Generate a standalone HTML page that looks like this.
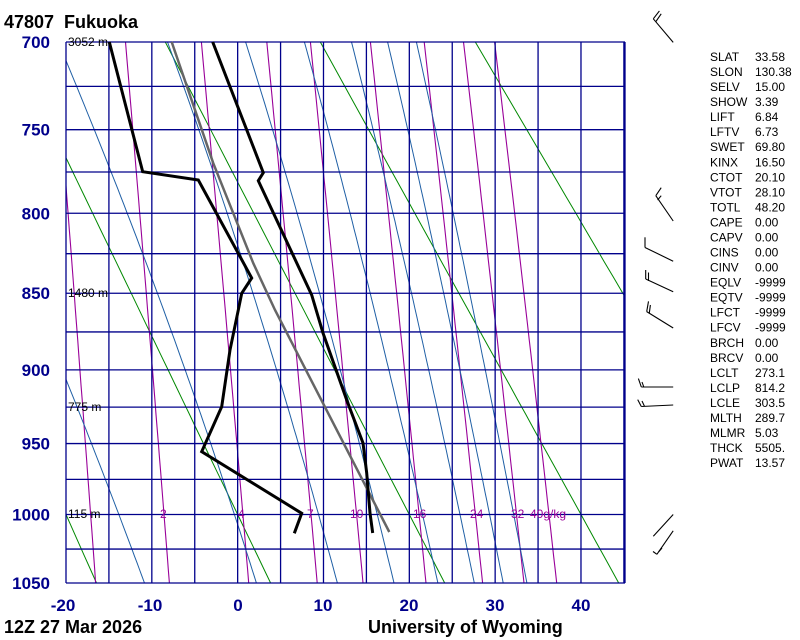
<!DOCTYPE html>
<html><head><meta charset="utf-8"><style>
html,body{margin:0;padding:0;background:#fff;}
svg{display:block;font-family:"Liberation Sans",sans-serif;}
</style></head><body>
<svg id="s" width="800" height="640" viewBox="0 0 800 640" xmlns="http://www.w3.org/2000/svg">
<defs><clipPath id="c"><rect x="66" y="42" width="559" height="541"/></clipPath></defs>
<g id="lines" clip-path="url(#c)"></g>
<g id="grid" stroke="#00008b" stroke-width="1.3" fill="none"></g>
<g id="prof" fill="none" stroke-linejoin="miter"></g>
<g id="txt"></g>
<g id="barbs" stroke="#000" stroke-width="1.1" fill="none"></g>
</svg>
<script>
var NS="http://www.w3.org/2000/svg";
function el(par,tag,attrs,text){var e=document.createElementNS(NS,tag);for(var k in attrs)e.setAttribute(k,attrs[k]);if(text!==undefined)e.textContent=text;document.getElementById(par).appendChild(e);return e;}
var K=0.286,A=Math.pow(700,K),B=Math.pow(1050,K);
function Y(p){return 42+(Math.pow(p,K)-A)/(B-A)*541;}
function X(t){return 66+(t+20)*8.583;}
function es(t){return 6.112*Math.exp(17.67*t/(t+243.5));}
for(var i=0;i<=13;i++){var x=66+i*42.915;el("grid","line",{x1:x,y1:42,x2:x,y2:583});}
el("grid","line",{x1:625,y1:42,x2:625,y2:583});
for(var p=700;p<=1050;p+=25){var y=Y(p);el("grid","line",{x1:66,y1:y,x2:625,y2:y});}
[233.15,253.15,273.15,293.15,313.15,333.15,353.15].forEach(function(th){
 var pts=[];for(var p=700;p<=1050;p+=10){var T=th*Math.pow(p/1000,K)-273.15;pts.push(X(T).toFixed(1)+","+Y(p).toFixed(1));}
 el("lines","polyline",{points:pts.join(" "),stroke:"#008800","stroke-width":"1",fill:"none"});
});
[1,2,4,7,10,16,24,32,40].forEach(function(w){
 var pts=[];for(var p=700;p<=1050;p+=10){var e=w*p/(622+w);var l=Math.log(e/6.112);var T=243.5*l/(17.67-l);pts.push(X(T).toFixed(1)+","+Y(p).toFixed(1));}
 el("lines","polyline",{points:pts.join(" "),stroke:"#990099","stroke-width":"1.1",fill:"none"});
});
function the(t,p){var TK=t+273.15;var e=es(t);var ws=0.622*e/(p-e);return TK*Math.pow(1000/p,K)*Math.exp(2.5e6*ws/(1004*TK));}
[243,262.6,282.2,301.7,320.1,338.5,357.7,376.3,394.4].forEach(function(tg){
 var pts=[];for(var p=690;p<=1055;p+=5){var lo=-90,hi=50;for(var j=0;j<50;j++){var m=(lo+hi)/2;if(the(m,p)<tg)lo=m;else hi=m;}pts.push(X(lo).toFixed(1)+","+Y(p).toFixed(1));}
 el("lines","polyline",{points:pts.join(" "),stroke:"#1f5fa5","stroke-width":"1",fill:"none"});
});
el("prof","polyline",{points:"389.3,532 275,310 253.3,263.3 233.3,213.3 213.3,163.3 171.7,42",stroke:"#666","stroke-width":"2.5"});
el("prof","polyline",{points:"212.7,42 263.3,172.7 258.3,180.7 311.7,295 323,333 346.7,400 363,443 366.7,473 370,513 372.7,533",stroke:"#000","stroke-width":"3"});
el("prof","polyline",{points:"109.3,42 142.7,171.7 198.3,180 251.7,278 241.7,293.3 238.3,310 230,350 221.7,406.7 201.7,451.7 301.7,513.3 294.3,533.3",stroke:"#000","stroke-width":"3"});
var t1=el("txt","text",{x:4,y:28,"font-size":"18","font-weight":"bold"},"47807  Fukuoka");t1.style.whiteSpace="pre";
el("txt","text",{x:4,y:633,"font-size":"18","font-weight":"bold"},"12Z 27 Mar 2026");
el("txt","text",{x:368,y:633,"font-size":"18","font-weight":"bold"},"University of Wyoming");
[700,750,800,850,900,950,1000,1050].forEach(function(p){el("txt","text",{x:50,y:(Y(p)+6).toFixed(1),"font-size":"17","font-weight":"bold",fill:"#00008b","text-anchor":"end"},String(p));});
[[-20,63],[-10,150],[0,238],[10,323],[20,409],[30,495],[40,581]].forEach(function(a){el("txt","text",{x:a[1],y:611,"font-size":"17","font-weight":"bold",fill:"#00008b","text-anchor":"middle"},String(a[0]));});
[["3052 m",46],["1480 m",297],["775 m",411],["115 m",518]].forEach(function(a){el("txt","text",{x:68,y:a[1],"font-size":"12"},a[0]);});
[["2",160],["4",238],["7",307],["10",350],["16",413],["24",470],["32",511],["40g/kg",530]].forEach(function(a){el("txt","text",{x:a[1],y:518,"font-size":"12",fill:"#990099"},a[0]);});
var st=[["SLAT","33.58"],["SLON","130.38"],["SELV","15.00"],["SHOW","3.39"],["LIFT","6.84"],["LFTV","6.73"],["SWET","69.80"],["KINX","16.50"],["CTOT","20.10"],["VTOT","28.10"],["TOTL","48.20"],["CAPE","0.00"],["CAPV","0.00"],["CINS","0.00"],["CINV","0.00"],["EQLV","-9999"],["EQTV","-9999"],["LFCT","-9999"],["LFCV","-9999"],["BRCH","0.00"],["BRCV","0.00"],["LCLT","273.1"],["LCLP","814.2"],["LCLE","303.5"],["MLTH","289.7"],["MLMR","5.03"],["THCK","5505."],["PWAT","13.57"]];
st.forEach(function(r,i){var y=(61+i*15.04).toFixed(1);el("txt","text",{x:710,y:y,"font-size":"12"},r[0]);el("txt","text",{x:755,y:y,"font-size":"12"},r[1]);});
var bl=[[673.2,42.4,653.3,18.8],[653.3,18.8,659.4,10.9],[655.8,21.7,661.2,13.8],
[673.2,221,655.8,195.7],[655.8,195.7,661.2,187.7],[657.6,200,661.2,195.7],
[673.2,261.2,645,247.5],[645,247.5,645,237.3],
[673.2,291.7,645.7,279],[645.7,279,645.7,270],[648.5,281,648.5,272.5],
[673.2,328,646.7,311.6],[646.7,311.6,648.5,301.4],[649.3,313,650.4,305],
[673.2,387,641.3,387],[641.3,387,638.4,378.6],[643.8,387,642,382],
[673.2,405,641.3,406.5],[641.3,406.5,637.7,399.6],[644.5,406.3,642,401],
[673.2,514.5,653.3,536.2],[673.2,530.8,656.9,554.3],[656.9,554.3,653,551.5],[658.5,552,662,548]];
bl.forEach(function(b){el("barbs","line",{x1:b[0],y1:b[1],x2:b[2],y2:b[3]});});
</script>
</body></html>
